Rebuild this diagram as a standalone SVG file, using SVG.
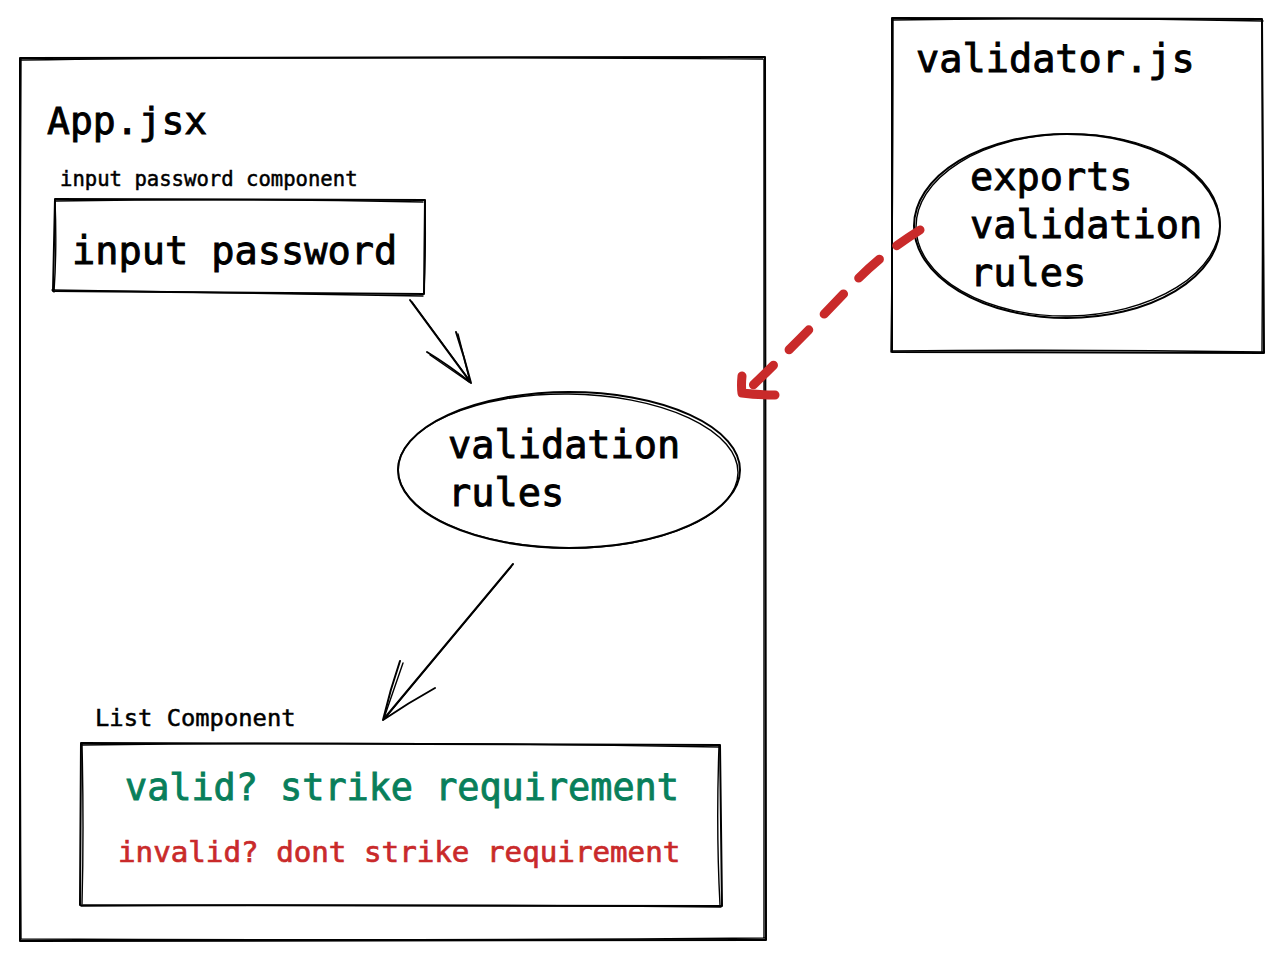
<svg xmlns="http://www.w3.org/2000/svg" width="1282" height="960" viewBox="0 0 1282 960">
<style>
.s{fill:none;stroke:#000;stroke-width:2;stroke-linecap:round;stroke-linejoin:round}
.t{stroke-width:1.4}
.m{font-family:"DejaVu Sans Mono","Liberation Mono",monospace;fill:#000;stroke:#000;stroke-width:0.9}
.sm{stroke-width:0.5}
.red{fill:none;stroke:#c92a2a;stroke-width:9;stroke-linecap:round;stroke-linejoin:round}
</style>
<rect width="1282" height="960" fill="#fff"/>
<g id="app">
<path class="s" d="M20 58 L765 57 L766 940 L20 941 Z"/>
<path class="s t" d="M22 60 Q300 56 763 59 M764 60 Q765 500 764 938 M765 938 Q400 941 21 939 M21 939 Q19 500 21 59"/>
<text class="m" x="47" y="134" font-size="38">App.jsx</text>
</g>
<g id="input-password">
<text class="m sm" x="60" y="186" font-size="20.6">input password component</text>
<path class="s" d="M55 199 L425 200 L424 294 L53 291 Z"/>
<path class="s t" d="M56 201 Q240 198 423 202 M425 201 Q426 250 424 292 M423 296 Q240 293 52 290 M54 292 Q57 250 55 200"/>
<text class="m" x="72" y="264" font-size="38.6">input password</text>
</g>
<g id="validation-rules">
<ellipse class="s" cx="569" cy="470" rx="171" ry="78"/>
<ellipse class="s t" cx="568" cy="471" rx="170" ry="77" transform="rotate(0.6 568 471)"/>
<text class="m" font-size="38.6"><tspan x="448" y="458">validation</tspan><tspan x="448" y="506">rules</tspan></text>
</g>
<g id="validator">
<path class="s" d="M892 18 L1262 19 L1264 353 L892 352 Z"/>
<path class="s t" d="M893 20 Q1080 17 1263 21 M1262 20 Q1263 200 1262 351 M1263 352 Q1080 349 893 351 M891 352 Q893 200 893 19"/>
<text class="m" x="916" y="72" font-size="38.6">validator.js</text>
<ellipse class="s" cx="1067" cy="226" rx="153" ry="92"/>
<ellipse class="s t" cx="1068" cy="225" rx="152" ry="91" transform="rotate(-1 1068 225)"/>
<text class="m" font-size="38.6"><tspan x="970" y="190">exports</tspan><tspan x="970" y="238">validation</tspan><tspan x="970" y="286">rules</tspan></text>
</g>
<g id="list">
<text class="m sm" x="95" y="726" font-size="23.8">List Component</text>
<path class="s" d="M81 743 L720 745 L722 906 L80 905 Z"/>
<path class="s t" d="M82 745 Q400 741 719 747 M719 746 Q716 830 720 905 M721 907 Q400 904 81 906 M82 904 Q84 830 82 744"/>
<text class="m" x="125" y="800" font-size="36.8" style="fill:#087f5b;stroke:#087f5b">valid? strike requirement</text>
<text class="m" x="118" y="862" font-size="29.2" style="fill:#c92a2a;stroke:#c92a2a;stroke-width:0.7">invalid? dont strike requirement</text>
</g>
<g id="connectors">
<path class="s" d="M410 300 L471 383 M427 352 Q450 366 471 383 M456 332 Q464 356 471 383"/>
<path class="s t" d="M412 302 L470 381 M430 355 L469 382 M458 334 L470 381"/>
<path class="s" d="M513 564 L383 720 M400 661 Q390 690 383 720 M435 688 Q408 703 383 720"/>
<path class="s t" d="M511 567 L385 718 M403 663 L384 718"/>
<path class="red" d="M920 230 Q880 255 852 285 Q800 340 745 393" stroke-dasharray="28 22"/>
<path class="red" d="M742 376 Q741 386 742 393 Q758 395 775 395"/>
</g>
</svg>
